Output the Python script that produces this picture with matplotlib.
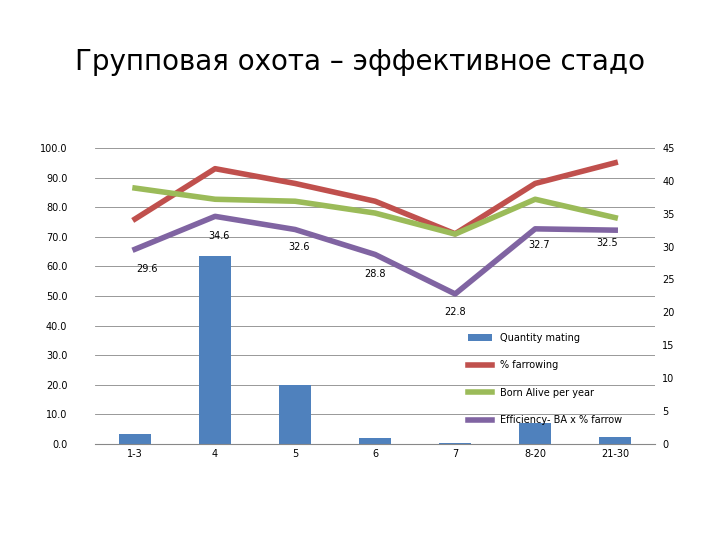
import matplotlib
matplotlib.use("Agg")
import matplotlib.pyplot as plt
import numpy as np

categories = ["1-3", "4", "5", "6", "7", "8-20", "21-30"]
quantity_mating = [3.4, 63.5, 20.0, 2.0, 0.3, 7.1, 2.4]
pct_farrowing = [76, 93, 88, 82, 71, 88, 95]
born_alive = [38.9, 37.2, 36.9, 35.1, 31.9, 37.2, 34.4]
efficiency = [29.6, 34.6, 32.6, 28.8, 22.8, 32.7, 32.5]
eff_labels = ["29.6", "34.6", "32.6", "28.8", "22.8", "32.7", "32.5"]

plt.rcParams['font.family'] = ['DejaVu Sans']
fig = plt.figure(figsize=(7.2, 5.4), dpi=100)
fig.text(0.5, 0.885, "Групповая охота – эффективное стадо", ha="center", va="center", fontsize=20)
ax = fig.add_axes([0.132, 0.178, 0.778, 0.548])
ax2 = ax.twinx()
x = np.arange(len(categories))
bars = ax.bar(x, quantity_mating, width=0.4, color="#4F81BD", label="Quantity mating")
l1, = ax.plot(x, pct_farrowing, color="#C0504D", lw=4, label="% farrowing")
l2, = ax2.plot(x, born_alive, color="#9BBB59", lw=4, label="Born Alive per year")
l3, = ax2.plot(x, efficiency, color="#8064A2", lw=4, label="Efficiency- BA x % farrow")
offs = [(0.15, -3.0), (0.05, -3.0), (0.05, -2.7), (0.0, -3.0), (0.0, -2.7), (0.05, -2.5), (-0.1, -2.0)]
for xi, v, t, (dx, dy) in zip(x, efficiency, eff_labels, offs):
    ax2.text(xi + dx, v + dy, t, ha="center", va="center", fontsize=7)
ax.set_ylim(0, 100)
ax.set_yticks(np.arange(0, 101, 10))
ax.set_yticklabels([f"{v:.1f}" for v in np.arange(0, 101, 10)])
ax2.set_ylim(0, 45)
ax2.set_yticks(np.arange(0, 46, 5))
ax.set_xlim(-0.5, 6.5)
ax.set_xticks(x)
ax.set_xticklabels(categories)
for a in (ax, ax2):
    a.tick_params(labelsize=7, length=0)
    for s in a.spines.values():
        s.set_visible(False)
ax.spines['bottom'].set_visible(True)
ax.spines['bottom'].set_color("#888888")
ax.tick_params(axis='y', pad=20)
ax2.tick_params(axis='y', pad=5)
ax.grid(axis='y', color="#888888", lw=0.6)
ax.set_axisbelow(True)
handles = [bars, l1, l2, l3]
labels = ["Quantity mating", "% farrowing", "Born Alive per year", "Efficiency- BA x % farrow"]
ax.legend(handles, labels, loc="center left",
          bbox_to_anchor=(0.65, 0.22), frameon=False, fontsize=7, labelspacing=1.8, handlelength=2.5)
fig.savefig("out.png", dpi=100)
